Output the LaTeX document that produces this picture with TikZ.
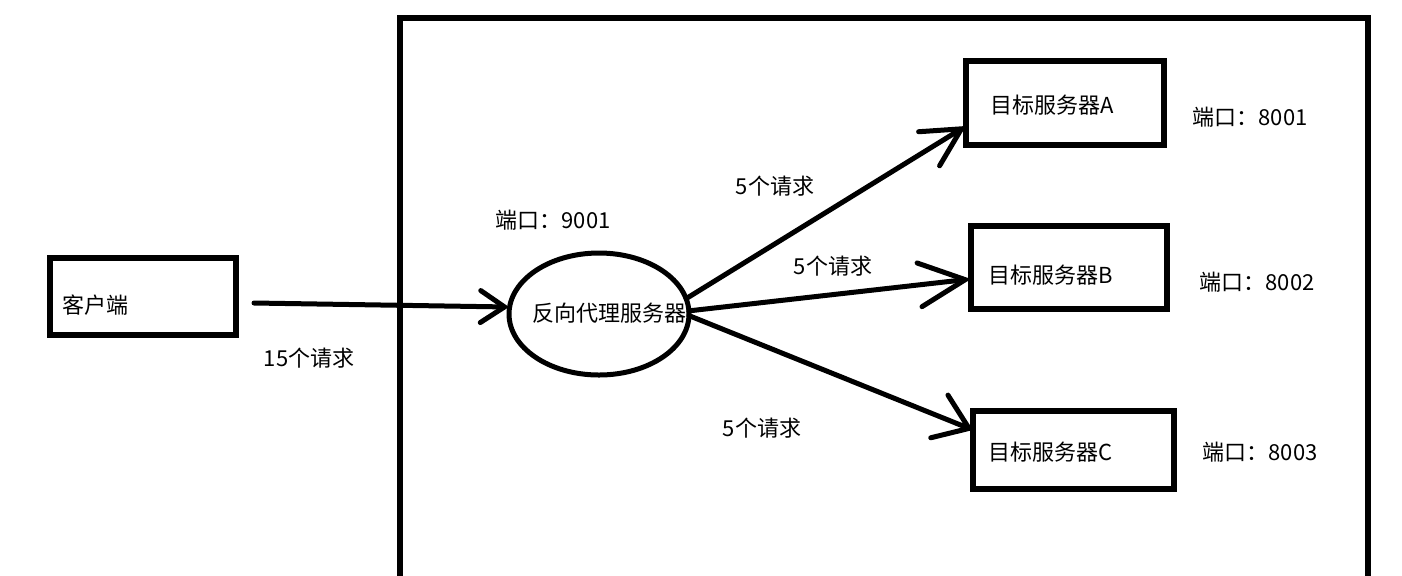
\documentclass[tikz,border=0pt]{standalone}
\usepackage{fontspec}
\setmainfont{Noto Sans CJK SC}
\usetikzlibrary{arrows.meta,shapes.geometric}
\begin{document}
\begin{tikzpicture}[x=0.5pt,y=-0.5pt,
  box/.style={draw, line width=3pt, rectangle, inner sep=0pt, outer sep=0pt},
  oval/.style={draw, line width=2.5pt, ellipse, inner sep=0pt, outer sep=0pt},
  lbl/.style={inner sep=0pt, font=\fontsize{11}{13}\selectfont},
  arr/.style={line width=2.5pt, line cap=round, -{Straight Barb[length=#1,line cap=round]}},
  arr/.default={12pt,width=16pt},
  frame/.style={line width=3pt}
]
\useasboundingbox (0,0) rectangle (1402,575);
\clip (0,0) rectangle (1402,575);
\draw[frame] (400,600) -- (400,18) -- (1368,18) -- (1368,600);

\node[box, minimum width=93pt, minimum height=38.5pt] (client) at (143,296.5) {};
\node[oval, minimum width=90pt, minimum height=61pt] (proxy) at (599,314) {};
\node[box, minimum width=99pt, minimum height=42pt] (A) at (1065,103) {};
\node[box, minimum width=98pt, minimum height=41.5pt] (B) at (1069,267.5) {};
\node[box, minimum width=100.5pt, minimum height=39pt] (C) at (1073.5,450) {};

\node[lbl] (tclient) at (95,305) {客户端};
\node[lbl] (tproxy) at (609,313) {反向代理服务器};
\node[lbl] (tA) at (1052,105) {目标服务器A};
\node[lbl] (tB) at (1051,275) {目标服务器B};
\node[lbl] (tC) at (1051,452) {目标服务器C};
\node[lbl] (p9001) at (553,220) {端口：9001};
\node[lbl] (p8001) at (1250,117) {端口：8001};
\node[lbl] (p8002) at (1257,282) {端口：8002};
\node[lbl] (p8003) at (1260,452) {端口：8003};
\node[lbl] (r15) at (309,358) {15个请求};
\node[lbl] (rA) at (775,186) {5个请求};
\node[lbl] (rB) at (833,266) {5个请求};
\node[lbl] (rC) at (762,428) {5个请求};

\draw[arr] ([xshift=9pt,yshift=-3.25pt]client.east) -- ([yshift=3.5pt]proxy.west);
\draw[arr={19pt,width=20pt}] (proxy.10) -- ([yshift=-11.5pt]A.west);
\draw[arr={23pt,width=22pt}] (proxy.2) -- ([yshift=-5.75pt]B.west);
\draw[arr={16pt,width=23pt}] (proxy.-1) -- ([yshift=10pt]C.west);
\end{tikzpicture}
\end{document}
